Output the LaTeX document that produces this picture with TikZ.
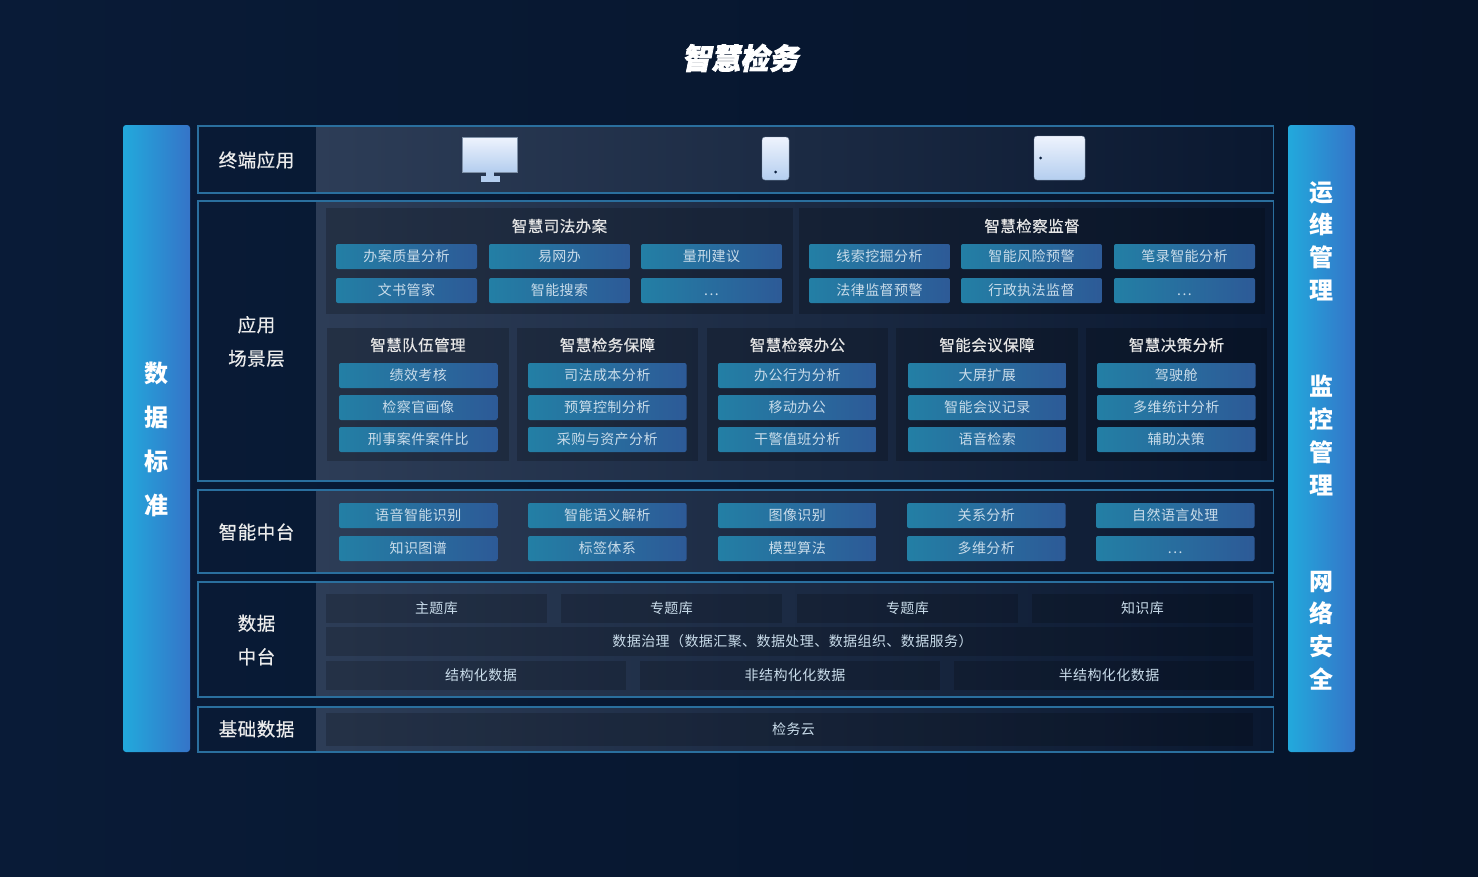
\documentclass[tikz,border=0pt]{standalone}
\usepackage{xcolor}
\usepackage{fontspec}
\setmainfont{Noto Sans CJK SC}[LetterSpace=3]
\newfontfamily\titlefont{Noto Sans CJK SC}[FakeSlant=0.2,FakeBold=2.5,BoldFeatures={FakeSlant=0.2,FakeBold=2.5}]
\newfontfamily\headfont{Noto Sans CJK SC}[LetterSpace=3,FakeBold=0.5]
\usetikzlibrary{calc}

\definecolor{pagedark}{HTML}{06142A}
\definecolor{pagemid}{HTML}{0A1F3E}
\definecolor{pageleft}{HTML}{091B37}
\definecolor{rowline}{HTML}{2A6F9E}
\definecolor{rowleft}{HTML}{2D3D57}
\definecolor{rowright}{HTML}{0A1830}
\definecolor{barleft}{HTML}{22A9DC}
\definecolor{barright}{HTML}{3574C8}
\definecolor{chipleft}{HTML}{237FA5}
\definecolor{chipright}{HTML}{2D5A97}
\definecolor{chiptext}{HTML}{C9DCEA}
\definecolor{iconlight}{HTML}{EEF3FD}
\definecolor{icondark}{HTML}{B4CEEF}

\newcommand{\moretxt}{\vphantom{智}.\kern1.5pt.\kern1.5pt.}

\tikzset{
	rowbox/.style={draw=rowline,line width=1.6pt},
	rowlabel/.style={text=white!92!black,align=center,font=\headfont\fontsize{18.5}{33.5}\selectfont},
	bartext/.style={text=white,align=center,font=\fontsize{24}{32.7}\selectfont\bfseries},
	sidebar/.style={rounded corners=3pt,left color=barleft,right color=barright},
	groupbox/.style={fill=black,fill opacity=0.2},
	grouptitle/.style={text=white!90!black,font=\headfont\fontsize{15.5}{16}\selectfont},
	chip/.style={anchor=north west,inner sep=0pt,outer sep=0pt,rounded corners=2pt,
		left color=chipleft,right color=chipright,text=chiptext,
		font=\fontsize{14}{14}\selectfont},
	databox/.style={anchor=north west,inner sep=0pt,outer sep=0pt,fill=black,
		fill opacity=0.18,text opacity=1,text=chiptext,font=\fontsize{14}{14}\selectfont},
	iconface/.style={top color=iconlight,bottom color=icondark,draw=icondark!70!black,line width=0.4pt}
}

\begin{document}
\begin{tikzpicture}[x=1pt,y=-1pt]
	\useasboundingbox (0,0) rectangle (1478,876);
	\shade[left color=pageleft,middle color=pagemid,right color=pagedark] (0,0) rectangle (1478,876);

	% title
	\node (title) at (740,58) {\titlefont\fontsize{29}{29}\selectfont\bfseries\textcolor{white}{智慧检务}};

	% side bars
	\node[sidebar,minimum width=67pt,minimum height=627pt] (barleftbox) at (156.5,438.5) {};
	\node[sidebar,minimum width=67pt,minimum height=627pt] (barrightbox) at (1321.5,438.5) {};
	\node[bartext,font=\fontsize{24}{44}\selectfont\bfseries] (standard) at (156,439) {数\\据\\标\\准};
	\node[bartext] (ops) at (1321,241) {运\\维\\管\\理};
	\node[bartext] (monitor) at (1321,435.5) {监\\控\\管\\理};
	\node[bartext] (network) at (1321,630.5) {网\\络\\安\\全};

	% rows
	\foreach \name/\ya/\yb/\cy/\txt in {%
		terminal/126/193/160/终端应用,
		scene/201/481/341.5/应用\\场景层,
		aicenter/490/573/532/智能中台,
		datacenter/582/697/640/数据\\中台,
		base/707/752/729/基础数据}
	{
		\shade[left color=rowleft,right color=rowright] (316,\ya) rectangle (1273,\yb);
		\draw[rowbox] (198,\ya) rectangle (1273.5,\yb);
		\node[rowlabel] (\name) at (256.5,\cy) {\txt};
	}

	% terminal icons
	\node[iconface,inner sep=0pt,minimum width=55pt,minimum height=35pt] (screen) at (490,154.5) {};
	\node[fill=icondark,inner sep=0pt,minimum width=8pt,minimum height=5pt] (neck) at (490,174) {};
	\node[fill=icondark,inner sep=0pt,minimum width=19pt,minimum height=6pt] (stand) at (490,179) {};
	\node[iconface,rounded corners=3pt,inner sep=0pt,minimum width=27pt,minimum height=43pt] (phone) at (775.5,158.5) {};
	\node[circle,fill=pagemid,inner sep=0pt,minimum size=3pt] (phonedot) at (775.5,172) {};
	\node[iconface,rounded corners=3pt,inner sep=0pt,minimum width=51pt,minimum height=44pt] (tablet) at (1059.5,158) {};
	\node[circle,fill=pagemid,inner sep=0pt,minimum size=3pt] (tabletdot) at (1040.5,158) {};

	% two large groups
	\fill[groupbox] (326,208) rectangle (793,314);
	\fill[groupbox] (799,208) rectangle (1265,314);
	\node[grouptitle] (casework) at (559.5,226) {智慧司法办案};
	\node[grouptitle] (oversight) at (1032,226) {智慧检察监督};
	\foreach \i/\x/\y/\txt in {%
		1/336/244/办案质量分析,2/489/244/易网办,3/641/244/量刑建议,
		4/336/278/文书管家,5/489/278/智能搜索,6/641/278/\moretxt,
		7/809/244/线索挖掘分析,8/961/244/智能风险预警,9/1114/244/笔录智能分析,
		10/809/278/法律监督预警,11/961/278/行政执法监督,12/1114/278/\moretxt}
		\node[chip,minimum width=141pt,minimum height=25pt] (big\i) at (\x,\y) {\txt};

	% five small groups
	\foreach \i/\x/\w/\txt in {%
		1/327/182/智慧队伍管理,2/517/181/智慧检务保障,3/707/181/智慧检察办公,
		4/896/182/智能会议保障,5/1086/181/智慧决策分析}
	{
		\fill[groupbox] (\x,328) rectangle ++(\w,133);
		\node[grouptitle] (small\i) at ($(\x,345)+(\w/2,0)$) {\txt};
	}
	\foreach \i/\x/\y/\txt in {%
		1/339/363/绩效考核,2/339/395/检察官画像,3/339/427/刑事案件案件比,
		4/528/363/司法成本分析,5/528/395/预算控制分析,6/528/427/采购与资产分析,
		7/718/363/办公行为分析,8/718/395/移动办公,9/718/427/干警值班分析,
		10/908/363/大屏扩展,11/908/395/智能会议记录,12/908/427/语音检索,
		13/1097/363/驾驶舱,14/1097/395/多维统计分析,15/1097/427/辅助决策}
		\node[chip,minimum width=158.5pt,minimum height=25pt] (item\i) at (\x,\y) {\txt};

	% ai center
	\foreach \i/\x/\y/\txt in {%
		1/339/503/语音智能识别,2/528/503/智能语义解析,3/718/503/图像识别,4/907/503/关系分析,5/1096/503/自然语言处理,
		6/339/536/知识图谱,7/528/536/标签体系,8/718/536/模型算法,9/907/536/多维分析,10/1096/536/\moretxt}
		\node[chip,minimum width=158.5pt,minimum height=25pt] (ai\i) at (\x,\y) {\txt};

	% data center
	\foreach \i/\x/\txt in {1/326/主题库,2/561/专题库,3/797/专题库,4/1032/知识库}
		\node[databox,minimum width=221pt,minimum height=29pt] (lib\i) at (\x,594) {\txt};
	\node[databox,minimum width=927pt,minimum height=29pt] (govern) at (326,627) {\hspace*{6pt}数据治理（数据汇聚、数据处理、数据组织、数据服务）};
	\foreach \i/\x/\txt in {1/326/结构化数据,2/640/非结构化化数据,3/954/半结构化化数据}
		\node[databox,minimum width=300pt,minimum height=29pt] (src\i) at (\x,661) {\hspace*{10pt}\txt};

	% base
	\node[databox,minimum width=927pt,minimum height=33pt] (cloud) at (326,713) {\hspace*{8pt}检务云};
\end{tikzpicture}
\end{document}
